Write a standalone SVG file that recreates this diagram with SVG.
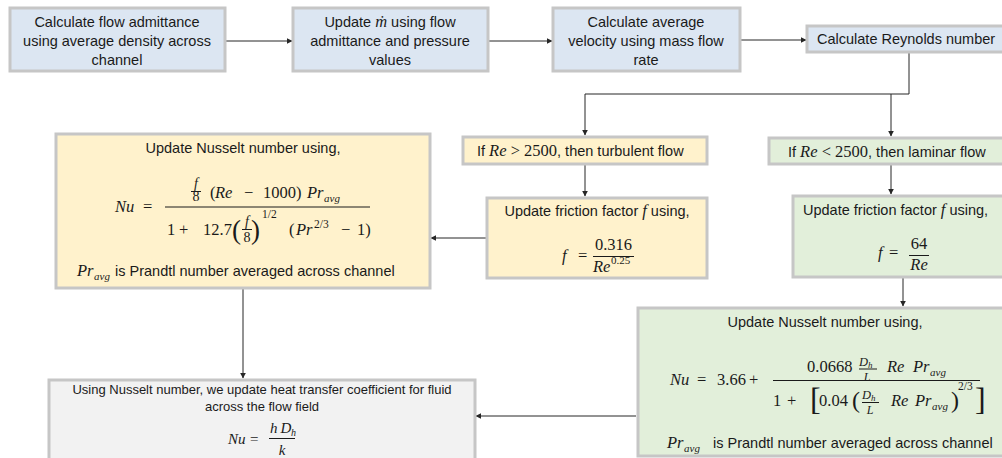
<svg xmlns="http://www.w3.org/2000/svg" width="1002" height="458" viewBox="0 0 1002 458">
<defs>
<marker id="ah" viewBox="0 0 10 10" refX="9" refY="5" markerWidth="6" markerHeight="6" orient="auto" markerUnits="userSpaceOnUse">
<path d="M0,0 L10,5 L0,10 z" fill="#262626"/>
</marker>
<style>
.box{stroke:#c6c6c6;stroke-width:3}
.blue{fill:#dce6f2}
.yel{fill:#fff2cc}
.grn{fill:#e2efda}
.gry{fill:#f2f2f2}
.t{font-family:"Liberation Sans",Arial,sans-serif;font-size:14.5px;fill:#1a1a1a}
.s{font-family:"Liberation Sans",Arial,sans-serif;font-size:13px;fill:#1a1a1a}
.m{font-family:"Liberation Serif","DejaVu Serif",serif;font-style:italic;font-size:16.5px;fill:#1a1a1a}
.n{font-family:"Liberation Serif","DejaVu Serif",serif;font-size:16.5px;fill:#1a1a1a}
.sub{font-size:11px}
.c{text-anchor:middle}
.bar{stroke:#1a1a1a;stroke-width:1}
.con{fill:none;stroke:#262626;stroke-width:1}
</style>
</defs>
<rect width="1002" height="458" fill="#ffffff"/>

<g id="connectors">
<path class="con" d="M225,41 H292" marker-end="url(#ah)"/>
<path class="con" d="M488,41 H552" marker-end="url(#ah)"/>
<path class="con" d="M740,40 H806" marker-end="url(#ah)"/>
<path class="con" d="M909,53 V94 H585 V135" marker-end="url(#ah)"/>
<path class="con" d="M891,94 V136" marker-end="url(#ah)"/>
<path class="con" d="M585,165 V196" marker-end="url(#ah)"/>
<path class="con" d="M891,165 V194" marker-end="url(#ah)"/>
<path class="con" d="M486,238 H431" marker-end="url(#ah)"/>
<path class="con" d="M903,278 V306" marker-end="url(#ah)"/>
<path class="con" d="M243,289 V378" marker-end="url(#ah)"/>
<path class="con" d="M636,416 H476" marker-end="url(#ah)"/>
</g>

<g id="n1">
<rect class="box blue" x="10" y="8" width="215" height="63"/>
<text class="t c" x="117" y="27">Calculate flow admittance</text>
<text class="t c" x="117" y="46">using average density across</text>
<text class="t c" x="117" y="65">channel</text>
</g>

<g id="n2">
<rect class="box blue" x="293" y="8" width="195" height="63"/>
<text class="t c" x="390" y="27">Update <tspan class="m">ṁ</tspan> using flow</text>
<text class="t c" x="390" y="46">admittance and pressure</text>
<text class="t c" x="390" y="65">values</text>
</g>

<g id="n3">
<rect class="box blue" x="553" y="8" width="187" height="63"/>
<text class="t c" x="646" y="27">Calculate average</text>
<text class="t c" x="646" y="46">velocity using mass flow</text>
<text class="t c" x="646" y="65">rate</text>
</g>

<g id="n4">
<rect class="box blue" x="807" y="26" width="210" height="26"/>
<text class="t" x="817" y="44">Calculate Reynolds number</text>
</g>

<g id="n5">
<rect class="box yel" x="463" y="137" width="244" height="27"/>
<text class="t" x="477" y="156">If <tspan class="m">Re</tspan><tspan class="n"> &gt; 2500</tspan>, then turbulent flow</text>
</g>

<g id="n6">
<rect class="box grn" x="769" y="138" width="245" height="26"/>
<text class="t" x="788" y="157">If <tspan class="m">Re</tspan><tspan class="n"> &lt; 2500</tspan>, then laminar flow</text>
</g>

<g id="n7">
<rect class="box yel" x="487" y="198" width="220" height="80"/>
<text class="t c" x="597" y="216">Update friction factor <tspan class="m">f</tspan> using,</text>
<text class="m" x="562" y="261">f</text>
<text class="n" x="578" y="261">=</text>
<line class="bar" x1="593" y1="256.5" x2="634" y2="256.5"/>
<text class="n c" x="613.5" y="250">0.316</text>
<text class="m" x="593" y="272">Re</text>
<text class="n" x="611" y="264" style="font-size:11px">0.25</text>
</g>

<g id="n8">
<rect class="box grn" x="793" y="196" width="221" height="81"/>
<text class="t" x="803" y="215">Update friction factor <tspan class="m">f</tspan> using,</text>
<text class="m" x="878" y="258">f</text>
<text class="n" x="889" y="258">=</text>
<line class="bar" x1="909" y1="255.5" x2="929" y2="255.5"/>
<text class="n c" x="919" y="249">64</text>
<text class="m c" x="919" y="270">Re</text>
</g>

<g id="n9">
<rect class="box yel" x="56" y="134" width="374" height="154"/>
<text class="t c" x="243" y="153">Update Nusselt number using,</text>
<text class="m" x="115" y="212">Nu</text>
<text class="n" x="143" y="212">=</text>
<line class="bar" x1="165" y1="207" x2="370" y2="207"/>
<text class="m c" x="196" y="188" style="font-size:14px">f</text>
<line class="bar" x1="191" y1="191.5" x2="201" y2="191.5"/>
<text class="n c" x="196" y="201" style="font-size:14px">8</text>
<text class="n" x="210" y="198">(</text>
<text class="m" x="215" y="198">Re</text>
<text class="n" x="244" y="198">−</text>
<text class="n" x="263" y="198">1000)</text>
<text class="m" x="307" y="198">Pr</text>
<text class="m sub" x="324" y="202">avg</text>
<text class="n" x="167" y="235">1</text>
<text class="n" x="179" y="235">+</text>
<text class="n" x="203" y="235">12.7</text>
<text class="n" x="232" y="239" style="font-size:27px">(</text>
<text class="m c" x="247" y="226" style="font-size:14px">f</text>
<line class="bar" x1="242" y1="229.5" x2="252" y2="229.5"/>
<text class="n c" x="247" y="242" style="font-size:14px">8</text>
<text class="n" x="251" y="239" style="font-size:27px">)</text>
<text class="n" x="262" y="218" style="font-size:11.5px">1/2</text>
<text class="n" x="289" y="235">(</text>
<text class="m" x="296" y="235">Pr</text>
<text class="n" x="314" y="228" style="font-size:11.5px">2/3</text>
<text class="n" x="341" y="235">−</text>
<text class="n" x="357" y="235">1)</text>
<text class="m" x="77" y="276">Pr</text>
<text class="m sub" x="94" y="280">avg</text>
<text class="t" x="115" y="276">is Prandtl number averaged across channel</text>
</g>

<g id="n10">
<rect class="box grn" x="638" y="308" width="376" height="148"/>
<text class="t c" x="825" y="327">Update Nusselt number using,</text>
<text class="m" x="670" y="385">Nu</text>
<text class="n" x="697" y="385">=</text>
<text class="n" x="717" y="385">3.66</text>
<text class="n" x="749" y="385">+</text>
<line class="bar" x1="773" y1="380.5" x2="980" y2="380.5"/>
<text class="n" x="807" y="372">0.0668</text>
<text class="m" x="859" y="365.5" style="font-size:12.5px">D</text>
<text class="m" x="868" y="367.5" style="font-size:9px">h</text>
<line class="bar" x1="859" y1="369" x2="877" y2="369"/>
<text class="m c" x="867" y="380.5" style="font-size:12px">L</text>
<text class="m" x="887" y="372">Re</text>
<text class="m" x="913" y="372">Pr</text>
<text class="m sub" x="930" y="376">avg</text>
<text class="n" x="773" y="406">1</text>
<text class="n" x="787" y="406">+</text>
<text class="n" x="810" y="410" style="font-size:32px">[</text>
<text class="n" x="819" y="406">0.04</text>
<text class="n" x="852" y="408" style="font-size:24px">(</text>
<text class="m" x="862" y="398.5" style="font-size:12.5px">D</text>
<text class="m" x="871" y="400.5" style="font-size:9px">h</text>
<line class="bar" x1="862" y1="402.5" x2="879" y2="402.5"/>
<text class="m c" x="870" y="413.5" style="font-size:12px">L</text>
<text class="m" x="891" y="406">Re</text>
<text class="m" x="915" y="406">Pr</text>
<text class="m sub" x="932" y="410">avg</text>
<text class="n" x="951" y="408" style="font-size:24px">)</text>
<text class="n" x="958" y="390" style="font-size:11.5px">2/3</text>
<text class="n" x="975" y="410" style="font-size:32px">]</text>
<text class="m" x="667" y="448">Pr</text>
<text class="m sub" x="684" y="452">avg</text>
<text class="t" x="713" y="448">is Prandtl number averaged across channel</text>
</g>

<g id="n11">
<rect class="box gry" x="49" y="380" width="426" height="90"/>
<text class="s c" x="262" y="394">Using Nusselt number, we update heat transfer coefficient for fluid</text>
<text class="s c" x="262" y="411">across the flow field</text>
<text class="m" x="228" y="444" style="font-size:15px">Nu</text>
<text class="n" x="250" y="444" style="font-size:15px">=</text>
<line class="bar" x1="269" y1="438.5" x2="295" y2="438.5"/>
<text class="m" x="270" y="433" style="font-size:15px">h</text>
<text class="m" x="280.5" y="433" style="font-size:15px">D</text>
<text class="m" x="291" y="436" style="font-size:10px">h</text>
<text class="m c" x="282" y="455" style="font-size:15px">k</text>
</g>
</svg>
